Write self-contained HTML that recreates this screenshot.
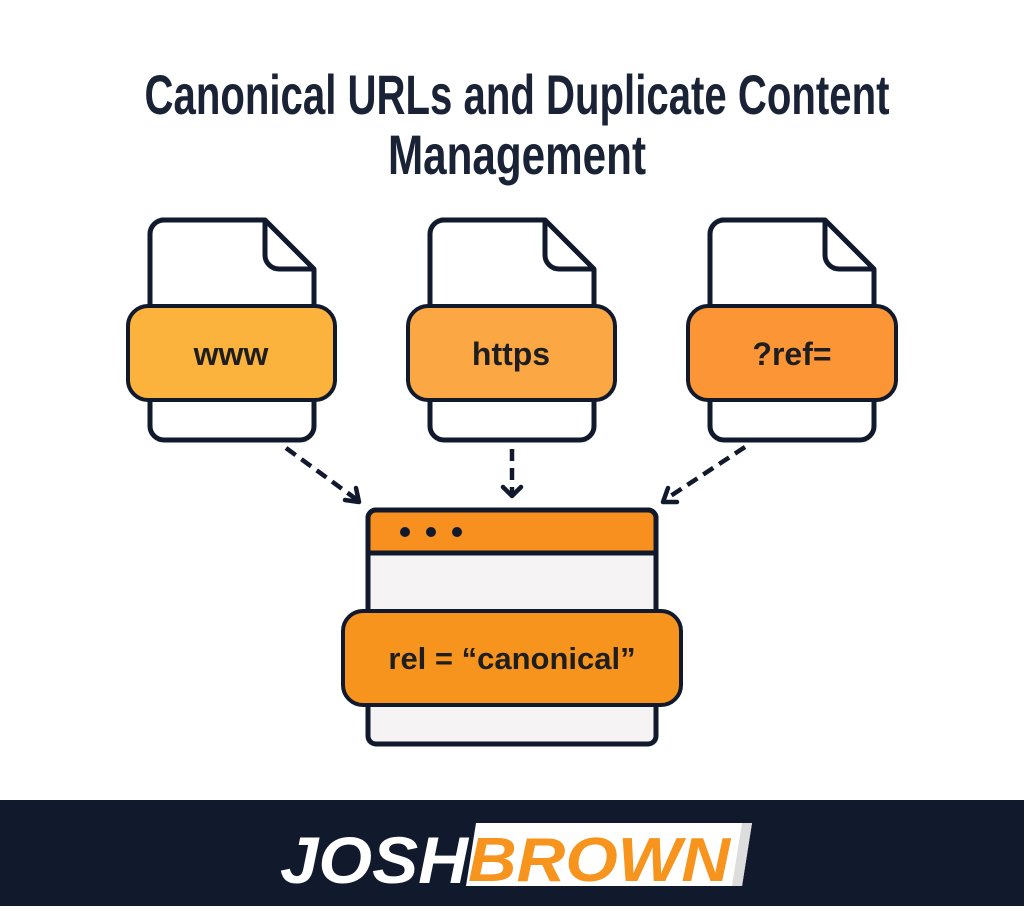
<!DOCTYPE html>
<html><head><style>
body{margin:0;width:1024px;height:906px;background:#fff;overflow:hidden;font-family:"Liberation Sans",sans-serif}
</style></head><body>
<svg width="1024" height="906" viewBox="0 0 1024 906" xmlns="http://www.w3.org/2000/svg">
<g font-family="Liberation Sans, sans-serif" font-weight="bold" fill="#1a2236" font-size="56" text-anchor="middle">
<text x="517" y="114" textLength="745" lengthAdjust="spacingAndGlyphs">Canonical URLs and Duplicate Content</text>
<text x="517" y="174" textLength="258" lengthAdjust="spacingAndGlyphs">Management</text>
</g>
<g stroke="#111a2c" stroke-width="5" stroke-linejoin="round">
<g>
<path d="M162,220 H265 L314,269 V426 a14,14 0 0 1 -14,14 H164 a14,14 0 0 1 -14,-14 V234 a14,14 0 0 1 14,-14 Z" fill="#fff"/>
<path d="M265,220 V255 a14,14 0 0 0 14,14 H314" fill="none"/>
</g>
<g transform="translate(280,0)"><path d="M162,220 H265 L314,269 V426 a14,14 0 0 1 -14,14 H164 a14,14 0 0 1 -14,-14 V234 a14,14 0 0 1 14,-14 Z" fill="#fff"/>
<path d="M265,220 V255 a14,14 0 0 0 14,14 H314" fill="none"/></g>
<g transform="translate(560,0)"><path d="M162,220 H265 L314,269 V426 a14,14 0 0 1 -14,14 H164 a14,14 0 0 1 -14,-14 V234 a14,14 0 0 1 14,-14 Z" fill="#fff"/>
<path d="M265,220 V255 a14,14 0 0 0 14,14 H314" fill="none"/></g>
<rect x="128" y="306" width="207" height="94" rx="20" fill="#fbb33e" stroke-width="4"/>
<rect x="408" y="306" width="207" height="94" rx="20" fill="#fba744" stroke-width="4"/>
<rect x="688" y="306" width="208" height="94" rx="20" fill="#fc9535" stroke-width="4"/>
<rect x="368" y="510" width="288" height="234" rx="8" fill="#f5f3f3"/>
<path d="M368,553 V518 a8,8 0 0 1 8,-8 H648 a8,8 0 0 1 8,8 V553 Z" fill="#f7901e"/>
<rect x="343" y="611" width="338" height="94" rx="20" fill="#f7941d" stroke-width="4"/>
</g>
<g fill="#111a2c"><circle cx="405" cy="532" r="5"/><circle cx="431" cy="532" r="5"/><circle cx="457" cy="532" r="5"/></g>
<g font-family="Liberation Sans, sans-serif" font-weight="bold" fill="#1e1e1e" font-size="32" text-anchor="middle">
<text x="231" y="365">www</text>
<text x="511" y="365">https</text>
<text x="792" y="365">?ref=</text>
<text x="512" y="669" font-size="31">rel = “canonical”</text>
</g>
<g stroke="#111a2c" stroke-width="4.5" stroke-dasharray="12,7" fill="none">
<line x1="286" y1="448" x2="356" y2="499"/>
<line x1="512" y1="449" x2="512" y2="494"/>
<line x1="745" y1="447" x2="666" y2="499"/>
</g>
<g stroke="#111a2c" stroke-width="4.5" fill="none" stroke-linecap="round" stroke-linejoin="round">
<path d="M345,500 L359,502 L356,488"/>
<path d="M503,487 L512,496 L521,487"/>
<path d="M668,488 L663,502 L677,502"/>
</g>
<rect x="0" y="800" width="1024" height="106" fill="#111a2c"/>
<polygon points="476,823 752,823 742,886 466,886" fill="#fff"/>
<polygon points="742,823 752,823 742,886 732,886" fill="#ddd"/>
<g font-family="Liberation Sans, sans-serif" font-weight="bold" font-style="italic" font-size="66">
<text x="280" y="883" fill="#fff" textLength="188" lengthAdjust="spacingAndGlyphs">JOSH</text>
<text x="468" y="881" fill="#f7941d" textLength="262" lengthAdjust="spacingAndGlyphs" font-size="62">BROWN</text>
</g>
</svg>
</body></html>
